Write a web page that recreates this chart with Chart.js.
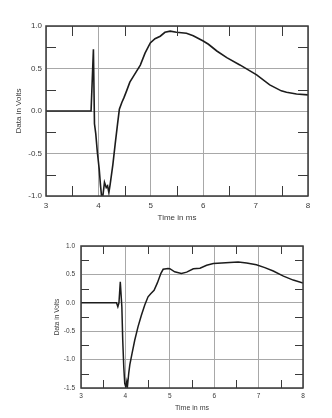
<!DOCTYPE html>
<html>
<head>
<meta charset="utf-8">
<script src="https://cdn.jsdelivr.net/npm/chart.js@4.4.1/dist/chart.umd.min.js"></script>
<style>
  html, body { margin: 0; padding: 0; background: #fff; }
  body { width: 332px; height: 418px; position: relative; overflow: hidden; }
  canvas { position: absolute; left: 0; }
  #upper { top: 0; }
  #lower { top: 230px; }
</style>
</head>
<body>
<canvas id="upper" width="332" height="230"></canvas>
<canvas id="lower" width="332" height="188"></canvas>
<script>
// ---- upper trace ----
const upperTime = [3.0, 3.86, 3.905, 3.925, 3.95, 3.98, 4.015, 4.04, 4.06, 4.085, 4.116, 4.15, 4.175, 4.2, 4.225,
  4.276, 4.32, 4.364, 4.40, 4.447, 4.49, 4.54, 4.6, 4.70, 4.80, 4.89, 4.99, 5.08, 5.18, 5.27, 5.37, 5.49,
  5.68, 5.81, 6.0, 6.10, 6.26, 6.45, 6.70, 7.02, 7.27, 7.49, 7.59, 7.78, 8.0];
const upperVolts = [0, 0, 0.727, -0.15, -0.27, -0.485, -0.68, -0.875, -1.0, -1.0, -0.84, -0.9, -0.88, -0.96, -0.86,
  -0.63, -0.39, -0.16, 0.02, 0.10, 0.16, 0.24, 0.34, 0.44, 0.54, 0.68, 0.80, 0.85, 0.88, 0.926, 0.94, 0.926,
  0.914, 0.886, 0.824, 0.785, 0.706, 0.628, 0.542, 0.425, 0.307, 0.237, 0.221, 0.20, 0.19];
const upperXMinor = [3.5, 4.5, 5.5, 6.5, 7.5];
const upperYMinor = [0.75, 0.25, -0.25, -0.75];

// ---- lower trace ----
const lowerTime = [3.0, 3.80, 3.83, 3.855, 3.885, 3.895, 3.92, 3.94, 3.963, 3.985, 4.008, 4.03, 4.045, 4.075, 4.10,
  4.15, 4.21, 4.285, 4.36, 4.436, 4.51, 4.57, 4.646, 4.72, 4.80, 4.85, 4.96, 5.0, 5.11, 5.26, 5.38, 5.53,
  5.68, 5.83, 5.98, 6.17, 6.35, 6.54, 6.73, 6.95, 7.14, 7.33, 7.56, 7.78, 8.0];
const lowerVolts = [0, 0, -0.07, 0.0, 0.37, 0.37, -0.07, -0.66, -1.12, -1.42, -1.48, -1.39, -1.48, -1.24, -1.09,
  -0.89, -0.66, -0.42, -0.22, -0.04, 0.105, 0.16, 0.22, 0.35, 0.52, 0.59, 0.605, 0.60, 0.546, 0.516, 0.54, 0.60,
  0.61, 0.66, 0.69, 0.70, 0.71, 0.72, 0.70, 0.67, 0.62, 0.56, 0.47, 0.40, 0.35];
const lowerXMinor = [3.5, 4.5, 5.5, 6.5, 7.5];
const lowerYMinor = [0.75, 0.25, -0.25, -0.75, -1.25];

const FONT = "'Liberation Sans', Arial, sans-serif";
const INK = '#3a3a3a';

// frame around the plot plus short inward minor ticks on all four sides
const frameTicks = {
  id: 'frameTicks',
  afterDraw(chart, args, o) {
    const { ctx, chartArea: a, scales: { x, y } } = chart;
    ctx.save();
    ctx.strokeStyle = INK;
    ctx.lineWidth = 1;
    ctx.beginPath();
    o.xMinor.forEach(v => {
      const px = Math.round(x.getPixelForValue(v)) + 0.5;
      ctx.moveTo(px, a.top); ctx.lineTo(px, a.top + o.len);
      ctx.moveTo(px, a.bottom); ctx.lineTo(px, a.bottom - o.len);
    });
    o.yMinor.forEach(v => {
      const py = Math.round(y.getPixelForValue(v)) + 0.5;
      ctx.moveTo(a.left, py); ctx.lineTo(a.left + o.len, py);
      ctx.moveTo(a.right, py); ctx.lineTo(a.right - o.len, py);
    });
    ctx.stroke();
    ctx.lineWidth = 1.5;
    ctx.strokeRect(a.left, a.top, a.width, a.height);
    ctx.restore();
  }
};

function makeChart(id, time, volts, cfg) {
  return new Chart(document.getElementById(id), {
    type: 'line',
    data: {
      datasets: [{
        data: time.map((t, i) => ({ x: t, y: volts[i] })),
        borderColor: '#1c1c1c',
        borderWidth: cfg.lineW,
        pointRadius: 0,
        tension: 0
      }]
    },
    options: {
      responsive: false,
      animation: false,
      events: [],
      layout: { padding: cfg.pad },
      plugins: {
        legend: { display: false },
        tooltip: { enabled: false },
        frameTicks: { xMinor: cfg.xMinor, yMinor: cfg.yMinor, len: cfg.tickLen }
      },
      scales: {
        x: {
          type: 'linear', min: 3, max: 8,
          afterFit: s => { s.height = cfg.xAxisH; },
          grid: { color: '#a8a8a8', lineWidth: 1, drawTicks: false },
          border: { display: false },
          ticks: { stepSize: 1, padding: cfg.xTickPad, color: INK, font: { family: FONT, size: cfg.tickSize }, maxRotation: 0 },
          title: { display: true, text: 'Time in ms', color: INK, font: { family: FONT, size: cfg.titleSize }, padding: 0 }
        },
        y: {
          min: cfg.yMin, max: 1,
          afterFit: s => { s.width = cfg.yAxisW; },
          grid: { color: '#a8a8a8', lineWidth: 1, drawTicks: false },
          border: { display: false },
          ticks: { stepSize: 0.5, padding: cfg.yTickPad, color: INK, font: { family: FONT, size: cfg.tickSize },
                   callback: v => v.toFixed(1) },
          title: { display: true, text: 'Data in Volts', color: INK, font: { family: FONT, size: cfg.ytSize },
                   padding: { top: cfg.yTitlePad, bottom: 0 } }
        }
      }
    },
    plugins: [frameTicks]
  });
}

makeChart('upper', upperTime, upperVolts, {
  pad: { top: 26, right: 24, left: 0, bottom: 7 },
  xAxisH: 27, yAxisW: 46,
  yMin: -1, xMinor: upperXMinor, yMinor: upperYMinor, tickLen: 10,
  tickSize: 8, titleSize: 8, ytSize: 8, lineW: 1.6,
  xTickPad: 5, yTickPad: 4, yTitlePad: 14
});

makeChart('lower', lowerTime, lowerVolts, {
  pad: { top: 16, right: 29, left: 0, bottom: 6 },
  xAxisH: 24, yAxisW: 81,
  yMin: -1.5, xMinor: lowerXMinor, yMinor: lowerYMinor, tickLen: 8,
  tickSize: 6.5, titleSize: 7, ytSize: 6.5, lineW: 1.5,
  xTickPad: 4, yTickPad: 6, yTitlePad: 53
});
</script>
</body>
</html>
